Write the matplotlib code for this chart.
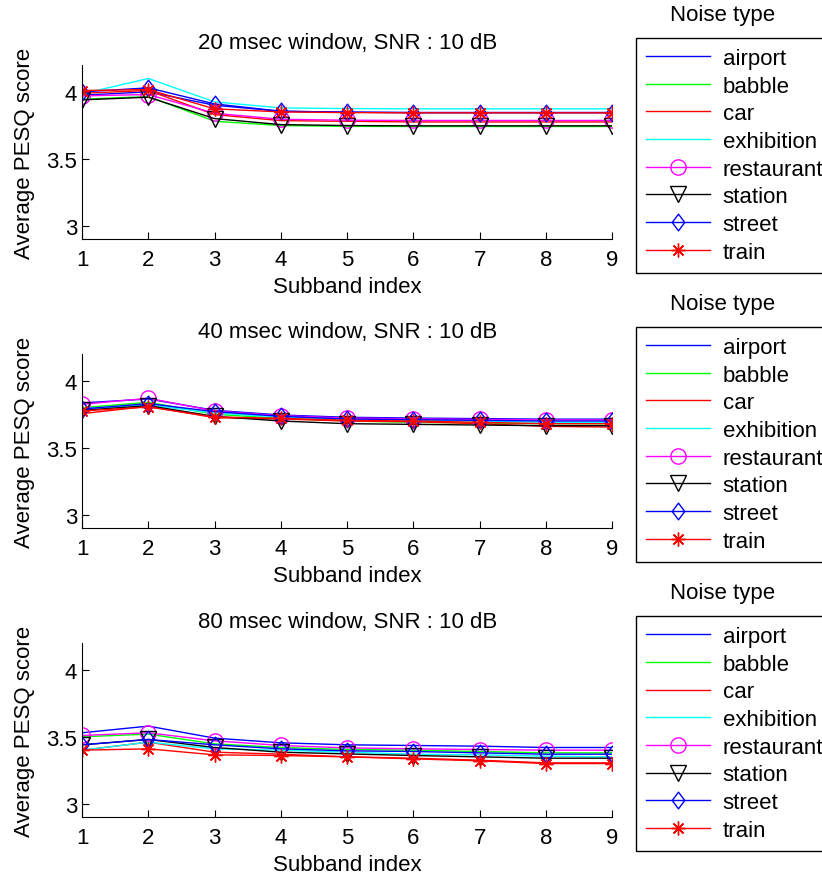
import matplotlib
matplotlib.use("Agg")
import matplotlib.pyplot as plt
from matplotlib.path import Path

plt.rcParams["font.family"] = ["Liberation Sans", "DejaVu Sans"]
plt.rcParams["font.size"] = 16

# data
subbands = [1, 2, 3, 4, 5, 6, 7, 8, 9]
noise_types = ["airport", "babble", "car", "exhibition",
               "restaurant", "station", "street", "train"]
window_titles = ["20 msec window, SNR : 10 dB",
                 "40 msec window, SNR : 10 dB",
                 "80 msec window, SNR : 10 dB"]

# one row per noise type, same order as noise_types
pesq_20ms = [
    [3.975, 4.00, 3.90, 3.855, 3.848, 3.845, 3.845, 3.845, 3.845],
    [3.945, 3.965, 3.78, 3.748, 3.742, 3.741, 3.741, 3.741, 3.741],
    [3.99, 4.01, 3.83, 3.785, 3.78, 3.775, 3.775, 3.775, 3.775],
    [3.985, 4.10, 3.925, 3.88, 3.875, 3.873, 3.873, 3.873, 3.873],
    [3.97, 3.98, 3.84, 3.795, 3.788, 3.786, 3.786, 3.786, 3.786],
    [3.94, 3.96, 3.80, 3.755, 3.748, 3.746, 3.746, 3.746, 3.746],
    [4.00, 4.03, 3.91, 3.855, 3.848, 3.845, 3.845, 3.845, 3.845],
    [4.01, 4.017, 3.873, 3.85, 3.845, 3.843, 3.843, 3.843, 3.843],
]
pesq_40ms = [
    [3.835, 3.865, 3.78, 3.745, 3.728, 3.722, 3.718, 3.714, 3.714],
    [3.80, 3.84, 3.75, 3.72, 3.70, 3.69, 3.685, 3.68, 3.68],
    [3.755, 3.81, 3.725, 3.715, 3.70, 3.695, 3.68, 3.66, 3.655],
    [3.79, 3.82, 3.76, 3.73, 3.71, 3.705, 3.70, 3.69, 3.69],
    [3.825, 3.87, 3.775, 3.74, 3.722, 3.716, 3.712, 3.708, 3.708],
    [3.78, 3.815, 3.735, 3.70, 3.68, 3.675, 3.67, 3.665, 3.665],
    [3.79, 3.83, 3.77, 3.735, 3.715, 3.71, 3.705, 3.70, 3.70],
    [3.775, 3.805, 3.73, 3.72, 3.705, 3.70, 3.69, 3.68, 3.68],
]
pesq_80ms = [
    [3.53, 3.58, 3.49, 3.455, 3.44, 3.435, 3.43, 3.42, 3.42],
    [3.50, 3.52, 3.447, 3.42, 3.405, 3.40, 3.39, 3.38, 3.38],
    [3.40, 3.46, 3.385, 3.37, 3.35, 3.34, 3.325, 3.305, 3.305],
    [3.40, 3.46, 3.41, 3.40, 3.385, 3.37, 3.365, 3.355, 3.35],
    [3.51, 3.53, 3.47, 3.435, 3.417, 3.41, 3.405, 3.40, 3.40],
    [3.44, 3.48, 3.42, 3.385, 3.372, 3.36, 3.35, 3.34, 3.34],
    [3.44, 3.48, 3.44, 3.41, 3.395, 3.39, 3.38, 3.37, 3.37],
    [3.40, 3.41, 3.365, 3.36, 3.35, 3.335, 3.32, 3.30, 3.30],
]
panels = [pesq_20ms, pesq_40ms, pesq_80ms]

# matlab style diamond: a bit wider than matplotlib's thin 'd'
diamond = Path([(0, 1), (0.75, 0), (0, -1), (-0.75, 0), (0, 1)],
               [Path.MOVETO, Path.LINETO, Path.LINETO, Path.LINETO,
                Path.CLOSEPOLY])

colors = ["#0000ff", "#00ff00", "#ff0000", "#00ffff",
          "#ff00ff", "#000000", "#0000ff", "#ff0000"]
markers = [None, None, None, None, "o", "v", diamond, (8, 2, 0)]
msizes = [0, 0, 0, 0, 11, 11, 12, 10]

fig = plt.figure(figsize=(8.22, 8.78), dpi=100)

bottoms = [0.7267, 0.3975, 0.0683]
for p in range(3):
    ax = fig.add_axes([0.0998, bottoms[p], 0.645, 0.198])
    for i, name in enumerate(noise_types):
        ax.plot(subbands, panels[p][i], color=colors[i], lw=1.0,
                marker=markers[i], markersize=msizes[i],
                markerfacecolor="none", markeredgecolor=colors[i],
                markeredgewidth=1.0, label=name)

    ax.set_xlim(1, 9)
    ax.set_ylim(2.9, 4.2)
    ax.set_xticks(subbands)
    ax.set_yticks([3, 3.5, 4])
    ax.set_yticklabels(["3", "3.5", "4"])
    ax.spines["top"].set_visible(False)
    ax.spines["right"].set_visible(False)
    ax.tick_params(direction="in", length=5, labelsize=16)
    ax.tick_params(axis="x", pad=7.5)
    ax.set_title(window_titles[p], fontsize=16, pad=12)
    ax.set_xlabel("Subband index", fontsize=16, labelpad=4)
    ax.set_ylabel("Average PESQ score", fontsize=16, labelpad=8)

    # legend sits outside, to the right of each panel
    top = bottoms[p] + 0.198 + 0.031
    leg = ax.legend(loc="upper left", bbox_to_anchor=(636 / 822, top),
                    bbox_transform=fig.transFigure,
                    borderaxespad=0, fontsize=16, handlelength=2.9,
                    handletextpad=0.55, labelspacing=0.3, borderpad=0.45,
                    fancybox=False, edgecolor="black", framealpha=1)
    leg.get_frame().set_linewidth(1.0)
    fig.text(723 / 822, top + 0.027, "Noise type", ha="center",
             va="center", fontsize=16)

fig.savefig("out.png", dpi=100)
